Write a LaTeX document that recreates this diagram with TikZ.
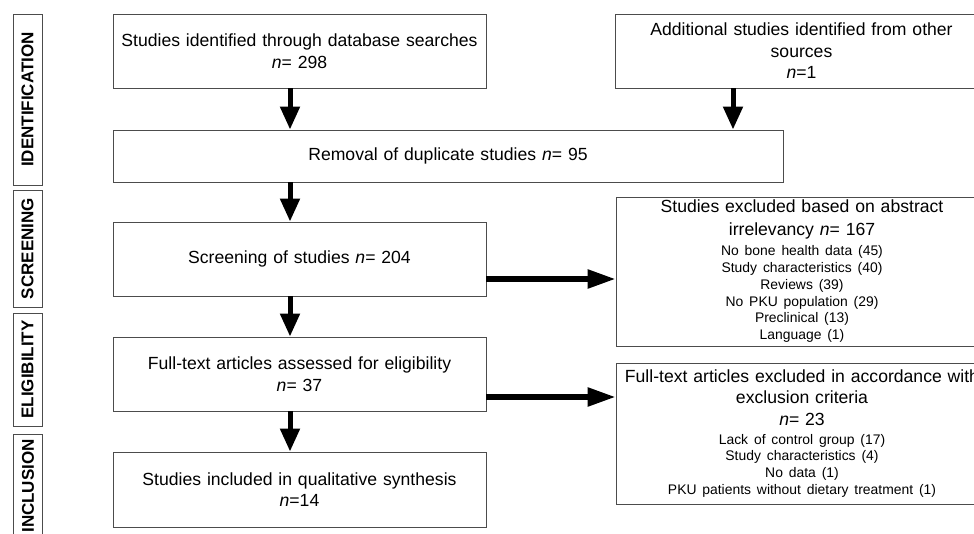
\documentclass[tikz,border=0pt]{standalone}
\usepackage{fontspec}
\setmainfont{Liberation Sans}
\usetikzlibrary{arrows.meta}
\setlength{\parindent}{0pt}
\newcommand{\bigtxt}{\fontsize{17.6}{21.5}\selectfont}
\newcommand{\smalltxt}{\fontsize{13.9}{16.9}\selectfont}
\tikzset{
  flowbox/.style={draw=black!70, line width=0.9pt, inner sep=0pt, align=center, font=\bigtxt},
  lblbox/.style={draw=black!70, line width=0.9pt, inner sep=0pt, rotate=90, font=\bfseries\fontsize{17}{19}\selectfont},
  lbltxt/.style={inner sep=0pt, rotate=90, font=\bfseries\fontsize{17}{19}\selectfont},
  varr/.style={line width=5pt, -{Triangle[length=23pt,width=19pt]}},
  harr/.style={line width=5.5pt, -{Triangle[length=28pt,width=18pt]}}
}
\begin{document}
\begin{tikzpicture}[x=1pt, y=-1pt]
\useasboundingbox (0,0) rectangle (974,534);
\clip (0,0) rectangle (974,534);

% phase labels
\node[lblbox, minimum width=171pt, minimum height=29pt] (lid) at (27.5,99.5) {IDENTIFICATION};
\node[lblbox, minimum width=117pt, minimum height=29pt] (lscr) at (27.5,248.5) {SCREENING};
\node[lblbox, minimum width=113pt, minimum height=29pt] (lel) at (27.5,369.5) {ELIGIBILITY};
\node[lblbox, minimum width=160pt, minimum height=29pt] (linc) at (27.5,514) {};
\node[lbltxt, anchor=east] (tinc) at (28,439) {INCLUSION};

% main column
\node[flowbox, minimum width=373pt, minimum height=74pt, text width=365pt] (db) at (299.5,51)
  {Studies identified through database searches\\\textit{n}= 298};
\node[flowbox, minimum width=373pt, minimum height=74pt, text width=365pt] (add) at (801.5,51)
  {Additional studies identified from other\\sources\\\textit{n}=1};
\node[flowbox, minimum width=670pt, minimum height=52pt, text width=660pt] (rem) at (448,156)
  {Removal of duplicate studies \textit{n}= 95};
\node[flowbox, minimum width=373pt, minimum height=74pt, text width=365pt] (scr) at (299.5,259)
  {Screening of studies \textit{n}= 204};
\node[flowbox, minimum width=373pt, minimum height=74pt, text width=365pt] (ft) at (299.5,374)
  {Full-text articles assessed for eligibility\\\textit{n}= 37};
\node[flowbox, minimum width=373pt, minimum height=75pt, text width=365pt] (inc) at (299.5,489.5)
  {Studies included in qualitative synthesis\\\textit{n}=14};

% exclusion boxes
\node[flowbox, minimum width=372pt, minimum height=149pt, text width=365pt] (ex1) at (802,271.5)
  {{\fontsize{17.6}{22.5}\selectfont Studies excluded based on abstract\\irrelevancy \textit{n}= 167\par}\vspace{3pt}%
   {\smalltxt No bone health data (45)\\Study characteristics (40)\\Reviews (39)\\No PKU population (29)\\Preclinical (13)\\Language (1)\par}};
\node[flowbox, minimum width=372pt, minimum height=141pt, text width=365pt] (ex2) at (802,433.5)
  {{\bigtxt Full-text articles excluded in accordance with\\exclusion criteria\\\textit{n}= 23\par}\vspace{2pt}%
   {\smalltxt Lack of control group (17)\\Study characteristics (4)\\No data (1)\\PKU patients without dietary treatment (1)\par}};

% connectors
\coordinate (cx) at (290,0);
\coordinate (ax) at (733,0);
\coordinate (hy1) at (0,279);
\coordinate (hy2) at (0,397);
\draw[varr] (db.south -| cx) -- (rem.north -| cx);
\draw[varr] (add.south -| ax) -- (rem.north -| ax);
\draw[varr] (rem.south -| cx) -- (scr.north -| cx);
\draw[varr] (scr.south -| cx) -- (ft.north -| cx);
\draw[varr] (ft.south -| cx) -- (inc.north -| cx);
\draw[harr] (scr.east |- hy1) -- (ex1.west |- hy1);
\draw[harr] (ft.east |- hy2) -- (ex2.west |- hy2);
\end{tikzpicture}
\end{document}
